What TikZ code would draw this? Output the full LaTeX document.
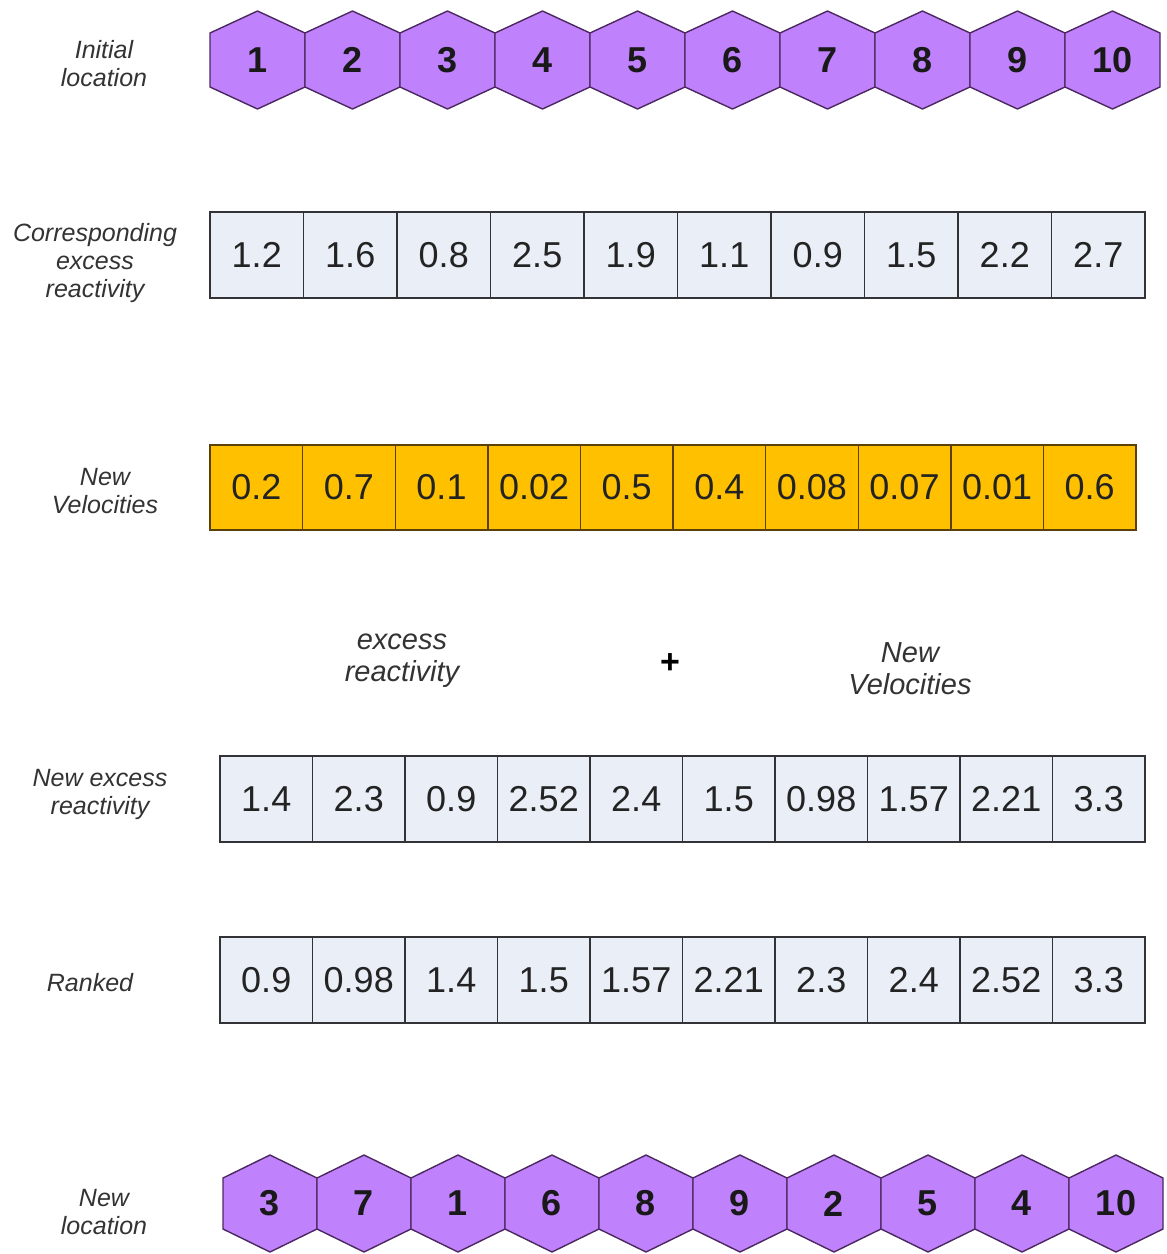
\documentclass[tikz,border=0pt]{standalone}
\usepackage{fontspec}
\setmainfont{Liberation Sans}
\usepackage{tikz}
\usetikzlibrary{positioning}

\definecolor{hexfill}{RGB}{192,130,252}
\definecolor{hexline}{RGB}{75,40,95}
\definecolor{cellfill}{RGB}{233,238,247}
\definecolor{cellline}{RGB}{50,50,55}
\definecolor{velfill}{RGB}{255,192,0}
\definecolor{velline}{RGB}{90,65,10}
\definecolor{numtext}{RGB}{35,35,35}

\tikzset{
  cell/.style={draw=cellline, fill=cellfill, line width=1.4pt, minimum height=86pt,
    inner sep=0pt, text=numtext, font=\fontsize{36}{40}\selectfont},
  velcell/.style={cell, draw=velline, fill=velfill, minimum height=85pt},
  hexpath/.style={draw=hexline, fill=hexfill, line width=1.4pt, line join=round},
  hexnum/.style={font=\bfseries\fontsize{36}{40}\selectfont, text=black!90},
  rowlabel/.style={font=\itshape\fontsize{25}{28}\selectfont, align=center, text=black!80},
  midlabel/.style={font=\itshape\fontsize{29}{32}\selectfont, align=center, text=black!80},
}

\begin{document}
\begin{tikzpicture}[x=1pt,y=1pt]
    \useasboundingbox (0,0) rectangle (1167,-1254);
    % row labels
    \node[rowlabel] (lblinit) at (104,-64) {Initial\\location};
    \node[rowlabel] (lblexc) at (95,-263) {Corresponding\\excess\\reactivity};
    \node[rowlabel] (lblvel) at (105,-491) {New\\Velocities};
    \node[rowlabel] (lblnew) at (100,-794) {New excess\\reactivity};
    \node[rowlabel] (lblrank) at (90,-983) {Ranked};
    \node[rowlabel] (lblloc) at (104,-1212) {New\\location};
    % initial hexagons
    \foreach \n [count=\i] in {1,...,10}
    {
        \draw[hexpath] (257.5+95*\i-95,-11) -- ++(47.5,-22) -- ++(0,-54) -- ++(-47.5,-22)
            -- ++(-47.5,22) -- ++(0,54) -- cycle;
        \node[hexnum] (init\i) at (257.5+95*\i-95,-60) {\n};
    }
    % excess reactivity
    \foreach \v [count=\i] in {1.2,1.6,0.8,2.5,1.9,1.1,0.9,1.5,2.2,2.7}
        \node[cell, minimum width=93.5pt] (exc\i) at (256.75+93.5*\i-93.5,-255) {\v};
    % velocities
    \foreach \v [count=\i] in {0.2,0.7,0.1,0.02,0.5,0.4,0.08,0.07,0.01,0.6}
        \node[velcell, minimum width=92.6pt] (vel\i) at (256.3+92.6*\i-92.6,-487.5) {\v};
    % sum
    \node[midlabel] (sumexc) at (402,-661) {excess\\reactivity};
    \node[font=\bfseries\fontsize{34}{36}\selectfont, text=black] (plus) at (670,-664) {+};
    \node[midlabel] (sumvel) at (910,-669) {New\\Velocities};
    % new excess reactivity
    \foreach \v [count=\i] in {1.4,2.3,0.9,2.52,2.4,1.5,0.98,1.57,2.21,3.3}
        \node[cell, minimum width=92.5pt] (newexc\i) at (266.25+92.5*\i-92.5,-799) {\v};
    % ranked
    \foreach \v [count=\i] in {0.9,0.98,1.4,1.5,1.57,2.21,2.3,2.4,2.52,3.3}
        \node[cell, minimum width=92.5pt] (rank\i) at (266.25+92.5*\i-92.5,-980) {\v};
    % new hexagons
    \foreach \n [count=\i] in {3,7,1,6,8,9,2,5,4,10}
    {
        \draw[hexpath] (270+94*\i-94,-1155) -- ++(47,-23) -- ++(0,-51) -- ++(-47,-23)
            -- ++(-47,23) -- ++(0,51) -- cycle;
        \node[hexnum] (newloc\i) at (270+94*\i-94,-1203.5) {\n};
    }
\end{tikzpicture}
\end{document}
